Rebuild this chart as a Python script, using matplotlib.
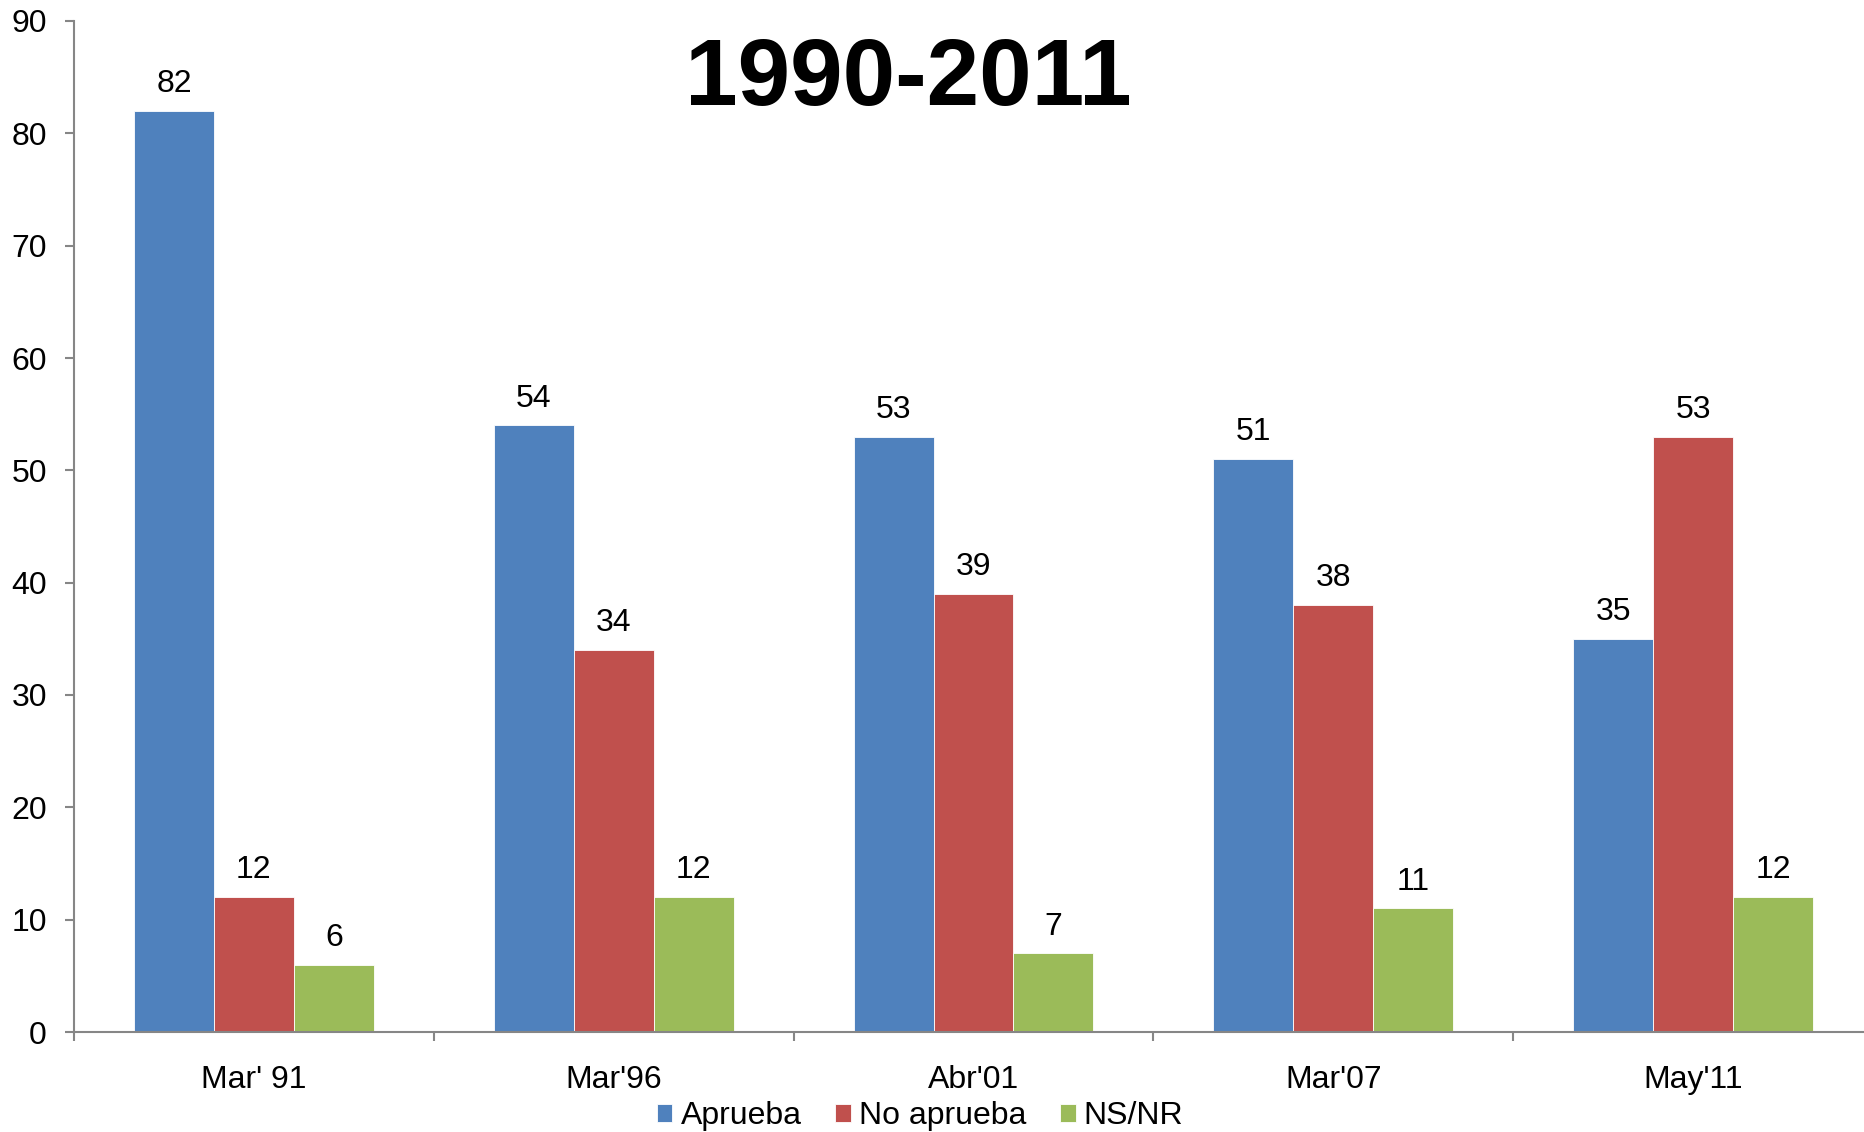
import matplotlib
matplotlib.use("Agg")
import matplotlib.pyplot as plt
import numpy as np

categories = ["Mar' 91", "Mar'96", "Abr'01", "Mar'07", "May'11"]
aprueba = [82, 54, 53, 51, 35]
no_aprueba = [12, 34, 39, 38, 53]
ns_nr = [6, 12, 7, 11, 12]
series_names = ["Aprueba", "No aprueba", "NS/NR"]
colors = ["#4F81BD", "#C0504D", "#9BBB59"]
title = "1990-2011"

plt.rcParams['font.family'] = ['Liberation Sans', 'DejaVu Sans']

W, H = 1864, 1132
fig = plt.figure(figsize=(W / 100, H / 100), dpi=100)
left = 74 / W
right = (74 + 5 * 359.8) / W
bottom = 1 - 1032 / H
top = 1 - 21 / H
ax = fig.add_axes([left, bottom, right - left, top - bottom])

x = np.arange(len(categories))
bw = 2 / 9
data = [aprueba, no_aprueba, ns_nr]
for i, (vals, name, c) in enumerate(zip(data, series_names, colors)):
    pos = x + (i - 1) * bw
    ax.bar(pos, vals, width=bw, color=c, edgecolor='white', linewidth=0.6,
           label=name, zorder=2)
    for xp, v in zip(pos, vals):
        ax.annotate(str(v), (xp, v), xytext=(0, 13.5), textcoords='offset points',
                    ha='center', va='baseline', fontsize=23, color='black')

ax.set_xlim(-0.5, len(categories) - 0.5)
ax.set_ylim(0, 90)
ax.set_yticks(np.arange(0, 91, 10))
ax.set_xticks(x)
ax.set_xticklabels(categories)
ax.set_xticks(np.arange(len(categories) + 1) - 0.5, minor=True)

for s in ['top', 'right']:
    ax.spines[s].set_visible(False)
for s in ['left', 'bottom']:
    ax.spines[s].set_color('#868686')
    ax.spines[s].set_linewidth(1.5)

ax.tick_params(axis='y', direction='out', length=6.5, width=1.5, color='#868686',
               labelsize=23, pad=13)
ax.tick_params(axis='x', which='major', length=0, labelsize=23, pad=23.5)
ax.tick_params(axis='x', which='minor', direction='out', length=6.5, width=1.5,
               color='#868686')

fig.text(908 / W, 1 - 105 / H, title, ha='center', va='baseline', fontsize=68,
         fontweight='bold', color='black')

fig.legend(loc='center', bbox_to_anchor=(920 / W, 1 - 1116 / H), ncol=3,
           frameon=False, fontsize=23, handlelength=0.5, handleheight=0.5,
           handletextpad=0.25, columnspacing=1.05, borderaxespad=0, borderpad=0)

fig.savefig("out.png", dpi=100, facecolor='white')
